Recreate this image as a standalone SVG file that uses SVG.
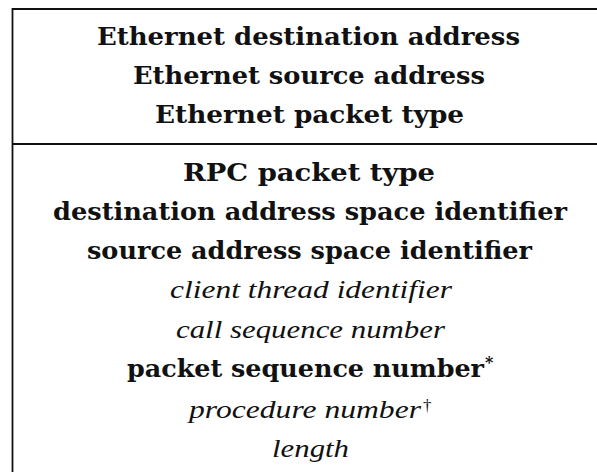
<svg xmlns="http://www.w3.org/2000/svg" width="597" height="472" viewBox="0 0 597 472">
<style>
.ln{stroke:#111;stroke-width:1.8;fill:none}
.b{font-family:"DejaVu Serif","Liberation Serif",serif;font-weight:bold;font-size:24px;fill:#111}
.i{font-family:"Liberation Serif","DejaVu Serif",serif;font-style:italic;font-size:26px;fill:#111}
.sup{font-family:"Liberation Serif","DejaVu Serif",serif;font-size:17px;fill:#111}
.ast{font-family:"DejaVu Serif","Liberation Serif",serif;font-weight:bold;font-size:16px;fill:#111}
</style>
<rect width="597" height="472" fill="#fff"/>
<g id="frame">
<path class="ln" d="M12.5,472 V9 H597"/>
<path class="ln" d="M12.5,144 H597"/>
</g>
<g id="ethernet-header">
<text class="b" x="97" y="45" textLength="423" lengthAdjust="spacingAndGlyphs">Ethernet destination address</text>
<text class="b" x="133" y="84" textLength="352" lengthAdjust="spacingAndGlyphs">Ethernet source address</text>
<text class="b" x="155" y="123" textLength="309" lengthAdjust="spacingAndGlyphs">Ethernet packet type</text>
</g>
<g id="rpc-header">
<text class="b" x="183" y="181" textLength="252" lengthAdjust="spacingAndGlyphs">RPC packet type</text>
<text class="b" x="53" y="220" textLength="514" lengthAdjust="spacingAndGlyphs">destination address space identifier</text>
<text class="b" x="87" y="259" textLength="445" lengthAdjust="spacingAndGlyphs">source address space identifier</text>
<text class="i" x="170" y="298" textLength="282" lengthAdjust="spacingAndGlyphs">client thread identifier</text>
<text class="i" x="176" y="338" textLength="269" lengthAdjust="spacingAndGlyphs">call sequence number</text>
<text class="b" x="127" y="377" textLength="357" lengthAdjust="spacingAndGlyphs">packet sequence number</text><text class="ast" x="485" y="368">*</text>
<text class="i" x="189" y="418" textLength="232" lengthAdjust="spacingAndGlyphs">procedure number</text><text class="sup" x="423" y="411">†</text>
<text class="i" x="272" y="457" textLength="77" lengthAdjust="spacingAndGlyphs">length</text>
</g>
</svg>
